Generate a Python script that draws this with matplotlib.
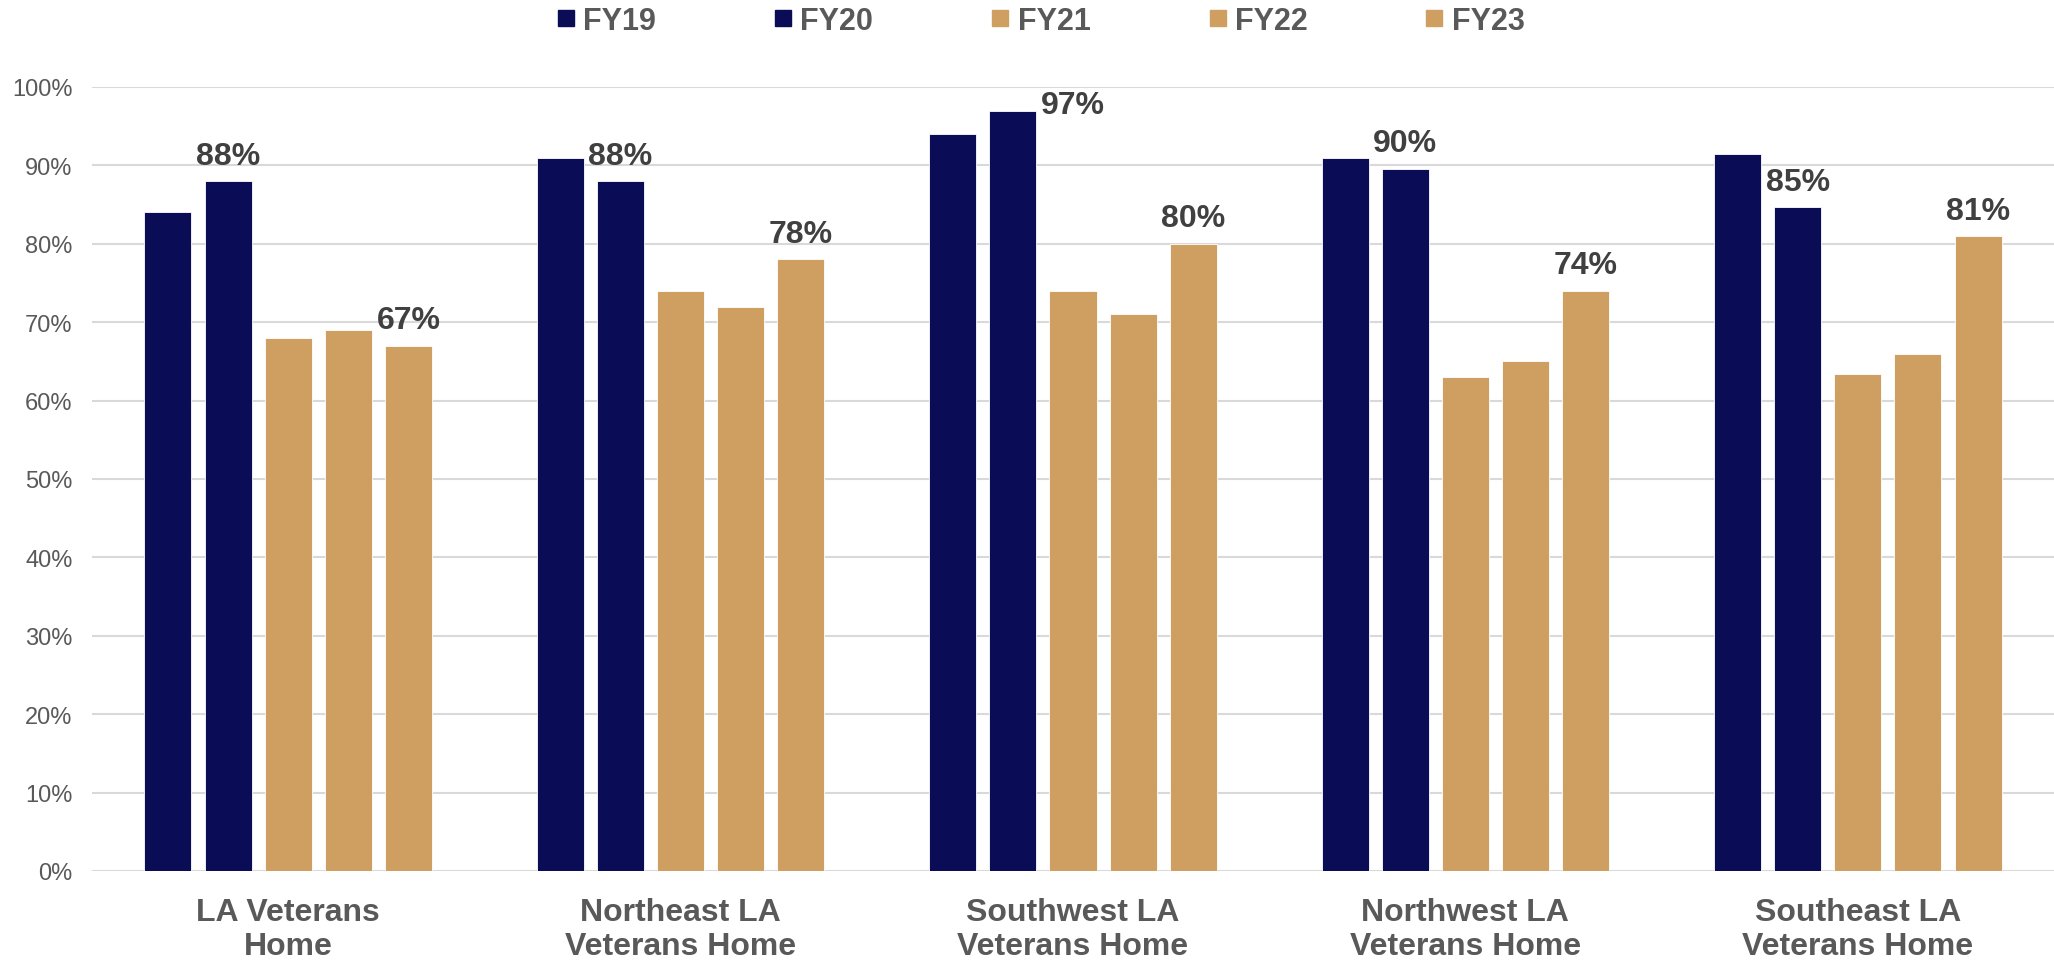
import matplotlib.pyplot as plt
import numpy as np
from matplotlib.lines import Line2D

plt.rcParams['font.family'] = ['Liberation Sans', 'DejaVu Sans']

homes = ["LA Veterans\nHome", "Northeast LA\nVeterans Home", "Southwest LA\nVeterans Home",
         "Northwest LA\nVeterans Home", "Southeast LA\nVeterans Home"]
years = ["FY19", "FY20", "FY21", "FY22", "FY23"]

fy19 = [0.84, 0.91, 0.94, 0.91, 0.915]
fy20 = [0.88, 0.88, 0.97, 0.896, 0.847]
fy21 = [0.68, 0.74, 0.74, 0.63, 0.634]
fy22 = [0.69, 0.72, 0.71, 0.65, 0.66]
fy23 = [0.67, 0.78, 0.80, 0.74, 0.81]
series = [fy19, fy20, fy21, fy22, fy23]

# only these years get a value label
labelled = ["FY20", "FY23"]

navy = "#0a0d55"
tan = "#cf9f62"
colors = [navy, navy, tan, tan, tan]

fig = plt.figure(figsize=(20.54, 9.62), dpi=100)
ax = fig.add_axes([92 / 2054, 1 - 872 / 962, 1 - 92 / 2054, (872 - 88) / 962])

x = np.arange(len(homes))
width = 0.12
pitch = 0.1533

for i, (yr, vals) in enumerate(zip(years, series)):
    pos = x + (i - 2) * pitch
    ax.bar(pos, vals, width, color=colors[i], edgecolor="white", linewidth=0.6,
           label=yr, zorder=3)
    if yr in labelled:
        for px, v in zip(pos, vals):
            txt = f"{v * 100:.0f}%"
            if v > 0.95:
                # no room above the top gridline, so put it beside the bar
                ax.annotate(txt, (px + width / 2, v), xytext=(3, 4), textcoords="offset points",
                            ha="left", va="center", fontsize=23, fontweight="bold",
                            color="#404040", annotation_clip=False)
            else:
                ax.annotate(txt, (px, v), xytext=(0, 12.5), textcoords="offset points",
                            ha="center", va="baseline", fontsize=23, fontweight="bold",
                            color="#404040", annotation_clip=False)

ax.set_xlim(-0.5, len(homes) - 0.5)
ax.set_ylim(0, 1.0)
ax.set_yticks(np.arange(0, 1.01, 0.1))
ax.set_yticklabels([f"{t}%" for t in range(0, 101, 10)])
ax.set_xticks(x)
ax.set_xticklabels(homes, fontsize=23, fontweight="bold", color="#595959", linespacing=1.17)
ax.tick_params(axis="y", length=0, pad=14, labelsize=17, labelcolor="#595959")
ax.tick_params(axis="x", length=0, pad=19)
ax.grid(axis="y", color="#d9d9d9", linewidth=1.5, zorder=0)
for s in ax.spines.values():
    s.set_visible(False)

handles = [Line2D([], [], marker="s", linestyle="none", markersize=11.5, color=c) for c in colors]
leg = fig.legend(handles, years, loc="center", bbox_to_anchor=(0.507, 1 - 22 / 962), ncol=5,
                 frameon=False, handlelength=0.52, handletextpad=0.3, columnspacing=3.9,
                 borderpad=0, prop={"size": 22, "weight": "bold"})
for t in leg.get_texts():
    t.set_color("#595959")

fig.savefig("out.png", dpi=100)
